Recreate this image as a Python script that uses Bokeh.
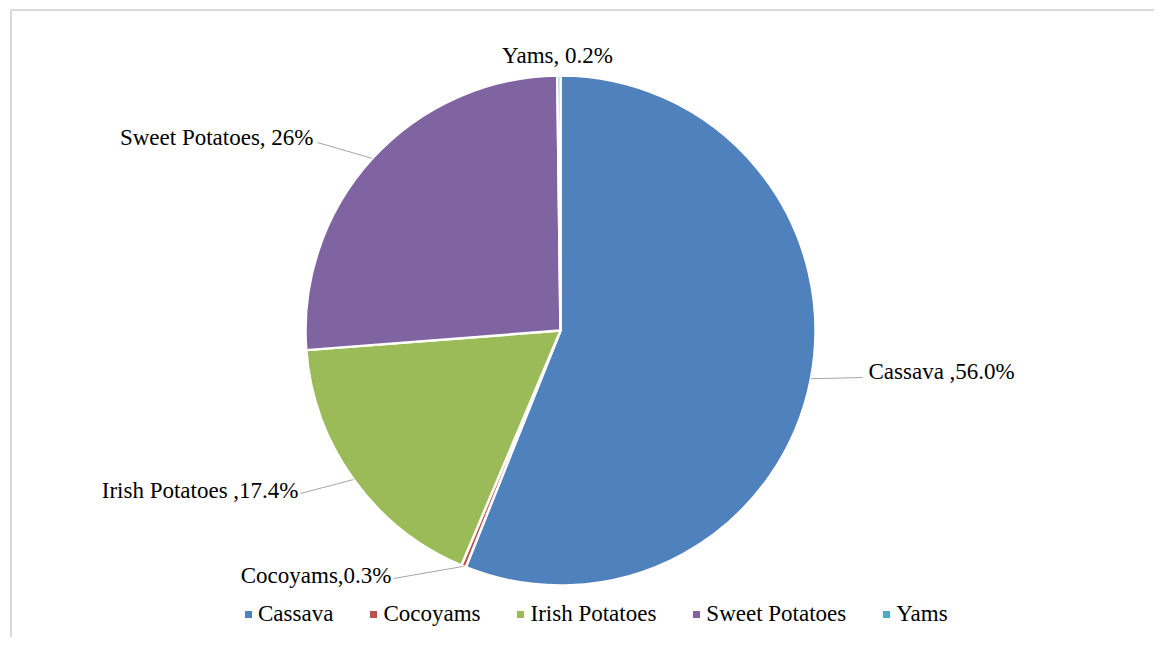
import numpy as np
from bokeh.plotting import figure
from bokeh.models import Range1d, ColumnDataSource, Legend, LegendItem
from bokeh.core.properties import value
from bokeh.embed import file_html
from bokeh.resources import INLINE

# ---- data ----
categories = ["Cassava", "Cocoyams", "Irish Potatoes", "Sweet Potatoes", "Yams"]
shares = [56.0, 0.3, 17.4, 26.0, 0.2]
label_texts = ["Cassava ,56.0%", "Cocoyams,0.3%", "Irish Potatoes ,17.4%",
               "Sweet Potatoes, 26%", "Yams, 0.2%"]
colors = ["#4F81BD", "#C0504D", "#9BBB59", "#8064A2", "#4BACC6"]

# ---- layout ----
W, H = 1154, 637
cx, cy, R = 560, 307, 255
label_x = [868, 391, 298, 313, 557]
label_y = [266, 62, 147, 500, 582]
label_align = ["left", "right", "right", "right", "center"]
elbow_x = [862, 393, 300, 317, None]
elbow_y = [260, 59, 144, 495, None]

FONT = "Liberation Serif"

frac = np.array(shares) / np.sum(shares)
cum = np.concatenate([[0], np.cumsum(frac)])
start = np.pi / 2 - cum[:-1] * 2 * np.pi
end = np.pi / 2 - cum[1:] * 2 * np.pi
mid = (start + end) / 2

src = ColumnDataSource(dict(cat=categories, start=start, end=end, color=colors))

p = figure(width=W, height=H, output_backend="svg", toolbar_location=None,
           x_range=Range1d(0, W), y_range=Range1d(0, H), min_border=0)
p.axis.visible = False
p.grid.visible = False
p.outline_line_color = None
p.background_fill_color = "white"

# chart border (top and left visible)
p.line([10.5, 10.5, W + 10], [-10, 627.5, 627.5], line_color="#D9D9D9", line_width=2)

r = p.wedge(x=cx, y=cy, radius=R, start_angle="start", end_angle="end",
            direction="clock", fill_color="color", line_color="white",
            line_width=2.5, source=src)

# leader lines
for i in range(len(categories)):
    if elbow_x[i] is None:
        continue
    ex = cx + R * np.cos(mid[i])
    ey = cy + R * np.sin(mid[i])
    p.line([ex, elbow_x[i]], [ey, elbow_y[i]], line_color="#A6A6A6", line_width=1)

for i in range(len(categories)):
    p.text(x=[label_x[i]], y=[label_y[i]], text=[label_texts[i]],
           text_font=value(FONT), text_font_size="23px", text_color="black",
           text_align=label_align[i], text_baseline="middle")

legend = Legend(items=[LegendItem(label=categories[i], renderers=[r], index=i)
                       for i in range(len(categories))],
                orientation="horizontal", location=(242, 10),
                label_text_font=FONT, label_text_font_size="23px",
                label_text_color="black",
                glyph_width=12, glyph_height=12, label_standoff=4, spacing=34,
                padding=0, margin=0, border_line_color=None,
                background_fill_alpha=0)
p.add_layout(legend, "center")

open("out.html", "w").write(file_html(p, INLINE))
